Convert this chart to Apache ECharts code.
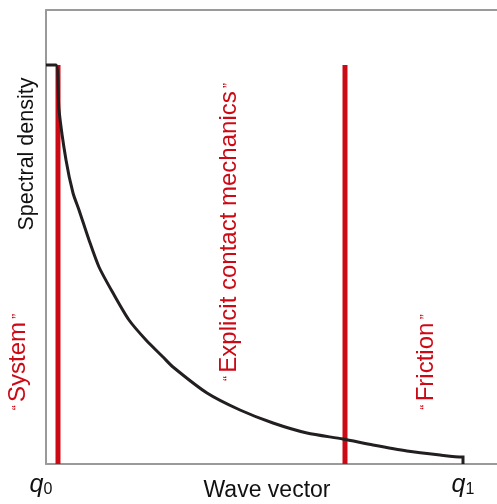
<!DOCTYPE html>
<html>
<head>
<meta charset="utf-8">
<script src="https://cdn.jsdelivr.net/npm/echarts@6/dist/echarts.min.js"></script>
<style>
  html, body { margin: 0; padding: 0; background: #fff; }
  #chart { width: 497px; height: 504px; }
</style>
</head>
<body>
<div id="chart"></div>
<script>
// curve (arbitrary units, x from q0, y up from axis)
const waveVector = [0, 10, 13, 20, 27, 33, 43, 53, 67, 83, 100, 117, 127, 161, 194, 227, 261, 297, 327, 361, 394, 416, 417, 417];
const density = [399, 399, 354, 304, 271, 254, 224, 197, 171, 144, 124, 107, 97, 71, 54, 41, 31, 25, 19, 13, 9, 7, 7, 0];
// regime borders (red bars)
const borders = [12, 299];
const borderTop = 399;
const qTicks = [0, 417];
const qNames = ["0", "1"];
const regimes = ["System", "Explicit contact mechanics", "Friction"];

const red = "#cc0a16";
const axisGrey = "#9a9a9a";

const chart = echarts.init(document.getElementById("chart"));

const curve = waveVector.map((x, i) => [x, density[i]]);

const redSeries = borders.map((b) => ({
  type: "line",
  data: [[b, 0], [b, borderTop]],
  showSymbol: false,
  lineStyle: { color: red, width: 5, cap: "butt" },
  z: 2,
  silent: true,
}));

function quoted(t) {
  return "{qt|\u201C} {t|" + t + "} {qt|\u201D}";
}
const richStyle = {
  t: { fontSize: 24, fill: red, fontFamily: "Liberation Sans, Arial" },
  qt: { fontSize: 15, fill: red, fontFamily: "Liberation Sans, Arial", verticalAlign: "middle" },
};

chart.setOption({
  animation: false,
  backgroundColor: "#fff",
  // plot runs past the right edge, like the open frame in the picture
  grid: { left: 46, right: -3, top: 10, bottom: 40, outerBoundsMode: "none" },
  xAxis: [
    {
      type: "value",
      min: 0,
      max: 454,
      name: "Wave vector",
      nameLocation: "middle",
      nameGap: 15,
      nameMoveOverlap: false,
      nameTextStyle: {
        fontSize: 23,
        color: "#111",
        fontFamily: "Liberation Sans, Arial",
        padding: [0, 12, 0, 0],
      },
      axisLine: { lineStyle: { color: axisGrey, width: 2 } },
      axisTick: { show: false },
      splitLine: { show: false },
      axisLabel: {
        customValues: qTicks,
        margin: 8,
        formatter: (v) => {
          const i = qTicks.indexOf(v);
          return "{q" + i + "|q}{s|" + qNames[i] + "}";
        },
        rich: {
          q0: { fontSize: 25, fontStyle: "italic", color: "#111", fontFamily: "Liberation Sans, Arial", padding: [0, 0, 0, -10] },
          q1: { fontSize: 25, fontStyle: "italic", color: "#111", fontFamily: "Liberation Sans, Arial" },
          s: { fontSize: 16, color: "#111", fontFamily: "Liberation Sans, Arial", padding: [10, 0, 0, 0] },
        },
      },
    },
    {
      type: "value",
      position: "top",
      min: 0,
      max: 454,
      axisLine: { lineStyle: { color: axisGrey, width: 2 } },
      axisTick: { show: false },
      axisLabel: { show: false },
      splitLine: { show: false },
    },
  ],
  yAxis: {
    type: "value",
    min: 0,
    max: 454,
    axisLine: { show: true, lineStyle: { color: "#777", width: 1.5 } },
    axisTick: { show: false },
    axisLabel: { show: false },
    splitLine: { show: false },
  },
  graphic: [
    {
      type: "text",
      x: 27,
      y: 154,
      rotation: Math.PI / 2,
      style: {
        text: "Spectral density",
        font: "21.5px Liberation Sans, Arial",
        fill: "#111",
        align: "center",
        verticalAlign: "middle",
      },
    },
    {
      type: "text",
      x: 18,
      y: 362,
      rotation: Math.PI / 2,
      style: { text: quoted(regimes[0]), rich: richStyle, align: "center", verticalAlign: "middle" },
    },
    {
      type: "text",
      x: 229,
      y: 232,
      rotation: Math.PI / 2,
      style: { text: quoted(regimes[1]), rich: richStyle, align: "center", verticalAlign: "middle" },
    },
    {
      type: "text",
      x: 426,
      y: 362,
      rotation: Math.PI / 2,
      style: { text: quoted(regimes[2]), rich: richStyle, align: "center", verticalAlign: "middle" },
    },
  ],
  series: [
    ...redSeries,
    {
      type: "line",
      data: curve,
      showSymbol: false,
      smooth: 0.25,
      lineStyle: { color: "#231f20", width: 3, join: "miter" },
      z: 3,
      silent: true,
    },
  ],
});
</script>
</body>
</html>
